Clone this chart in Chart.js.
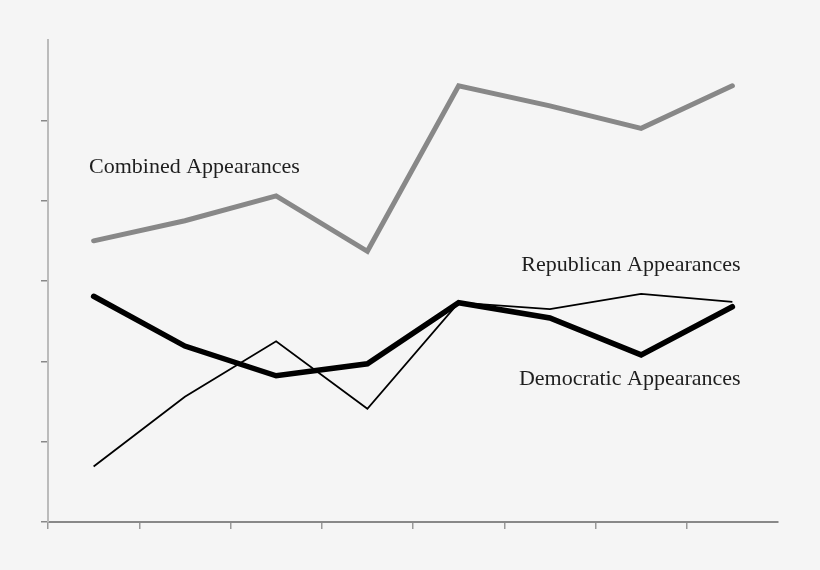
<!DOCTYPE html>
<html>
<head>
    <title>Appearances</title>
    <script src="https://cdn.jsdelivr.net/npm/chart.js"></script>
    <style>
        html, body { margin: 0; padding: 0; background: #f5f5f5; }
        #wrap { width: 820px; height: 570px; }
    </style>
</head>
<body>
    <div id="wrap"><canvas id="myChart"></canvas></div>

    <script>
        // eight periods, unlabelled on the original
        var periods = ['1', '2', '3', '4', '5', '6', '7', '8'];
        var combined = [35.0, 37.5, 40.6, 33.7, 54.3, 51.8, 49.0, 54.3];
        var democratic = [28.1, 21.9, 18.2, 19.7, 27.3, 25.4, 20.8, 26.8];
        var republican = [6.9, 15.6, 22.5, 14.1, 27.3, 26.5, 28.4, 27.4];

        // inline labels: [text, category index, value, align]
        var seriesLabels = [
            ['Combined Appearances', -0.05, 44.2, 'left'],
            ['Republican Appearances', 7.09, 32.0, 'right'],
            ['Democratic Appearances', 7.09, 17.8, 'right']
        ];

        var inlineLabels = {
            id: 'inlineLabels',
            afterDatasetsDraw: function(chart) {
                var c = chart.ctx;
                var xs = chart.scales.x, ys = chart.scales.y;
                c.save();
                c.font = '22px "Liberation Serif", "Times New Roman", serif';
                c.fillStyle = '#1e1e1e';
                c.textBaseline = 'middle';
                seriesLabels.forEach(function(l) {
                    c.textAlign = l[3];
                    c.fillText(l[0], xs.getPixelForValue(l[1]), ys.getPixelForValue(l[2]));
                });
                c.restore();
            }
        };

        var ctx = document.getElementById('myChart').getContext('2d');
        var myChart = new Chart(ctx, {
            type: 'line',
            data: {
                labels: periods,
                datasets: [{
                    label: 'Combined Appearances',
                    data: combined,
                    borderColor: '#888888',
                    borderWidth: 5,
                    borderCapStyle: 'round',
                    pointRadius: 0,
                    fill: false
                }, {
                    label: 'Democratic Appearances',
                    data: democratic,
                    borderColor: '#000000',
                    borderWidth: 5.5,
                    borderCapStyle: 'round',
                    pointRadius: 0,
                    fill: false
                }, {
                    label: 'Republican Appearances',
                    data: republican,
                    borderColor: '#000000',
                    borderWidth: 1.8,
                    pointRadius: 0,
                    fill: false
                }]
            },
            plugins: [inlineLabels],
            options: {
                responsive: true,
                maintainAspectRatio: false,
                animation: false,
                layout: { padding: { left: 41, top: 40, right: 42, bottom: 41 } },
                plugins: {
                    legend: { display: false },
                    tooltip: { enabled: false }
                },
                scales: {
                    x: {
                        offset: true,
                        border: { color: '#888888', width: 2 },
                        grid: {
                            offset: true,
                            drawOnChartArea: false,
                            tickLength: 7,
                            lineWidth: 1.5,
                            // no tick mark at the right end of the axis
                            color: function(c) { return c.tick ? '#999999' : 'rgba(0,0,0,0)'; }
                        },
                        ticks: { display: false }
                    },
                    y: {
                        min: 0,
                        max: 60,
                        border: { color: '#bbbbbb', width: 2 },
                        grid: {
                            drawOnChartArea: false,
                            tickLength: 7,
                            lineWidth: 1.5,
                            color: function(c) { return c.tick && c.tick.value === 60 ? 'rgba(0,0,0,0)' : '#888888'; }
                        },
                        ticks: { display: false, stepSize: 10 }
                    }
                }
            }
        });
    </script>
</body>
</html>
